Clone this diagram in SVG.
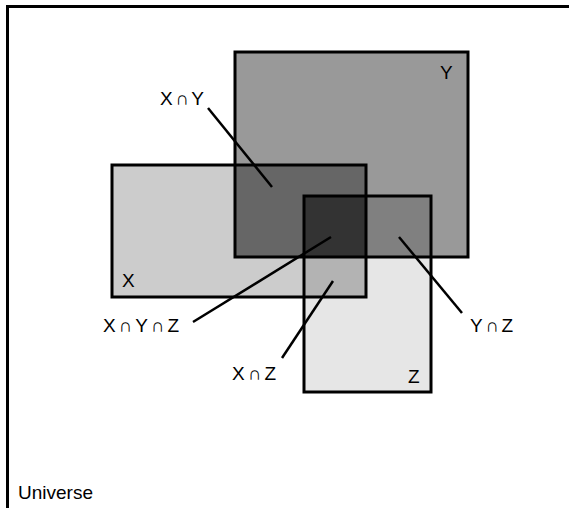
<svg xmlns="http://www.w3.org/2000/svg" width="569" height="508" viewBox="0 0 569 508">
<style>
.edge{fill:none;stroke:#000;stroke-width:3}
.lbl{font-family:"Liberation Sans",Arial,sans-serif;font-size:19px;fill:#000}
.conn{stroke:#000;stroke-width:2.5;fill:none}
</style>
<rect width="569" height="508" fill="#fff"/>
<g id="universe">
<rect class="edge" x="7.5" y="6.5" width="600" height="600"/>
<text class="lbl" x="18" y="499">Universe</text>
</g>
<g id="fills">
<rect x="112" y="165" width="254" height="132" fill="#cccccc"/>
<rect x="235" y="52" width="233" height="205" fill="#999999"/>
<rect x="304" y="196" width="127" height="196" fill="#e6e6e6"/>
<rect x="235" y="165" width="131" height="92" fill="#666666"/>
<rect x="304" y="196" width="127" height="61" fill="#808080"/>
<rect x="304" y="196" width="62" height="101" fill="#b3b3b3"/>
<rect x="304" y="196" width="62" height="61" fill="#333333"/>
</g>
<g id="X">
<rect class="edge" x="112" y="165" width="254" height="132"/>
<text class="lbl" x="122" y="287">X</text>
</g>
<g id="Y">
<rect class="edge" x="235" y="52" width="233" height="205"/>
<text class="lbl" x="440" y="79">Y</text>
</g>
<g id="Z">
<rect class="edge" x="304" y="196" width="127" height="196"/>
<text class="lbl" x="408" y="383">Z</text>
</g>
<g id="labels">
<text class="lbl" x="160" y="105" textLength="44" lengthAdjust="spacing">X∩Y</text>
<text class="lbl" x="103" y="332" textLength="76" lengthAdjust="spacing">X∩Y∩Z</text>
<text class="lbl" x="470" y="332" textLength="43" lengthAdjust="spacing">Y∩Z</text>
<text class="lbl" x="232" y="380" textLength="44" lengthAdjust="spacing">X∩Z</text>
</g>
<g id="connectors">
<line class="conn" x1="208" y1="108" x2="272" y2="187"/>
<line class="conn" x1="331" y1="237" x2="193" y2="322"/>
<line class="conn" x1="333" y1="281" x2="282" y2="358"/>
<line class="conn" x1="399" y1="237" x2="462" y2="313"/>
</g>
</svg>
